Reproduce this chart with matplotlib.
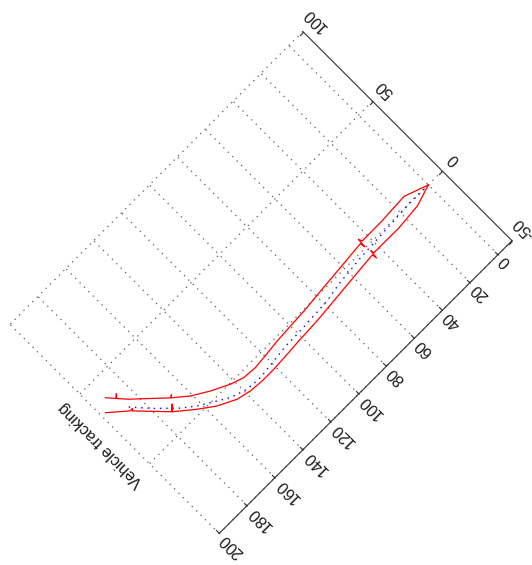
import matplotlib
matplotlib.use("Agg")
import matplotlib.pyplot as plt
from matplotlib.transforms import Affine2D
import mpl_toolkits.axisartist.floating_axes as floating_axes
from mpl_toolkits.axisartist.grid_finder import FixedLocator, DictFormatter

plt.rcParams['font.family'] = ['Liberation Sans', 'DejaVu Sans']

# Axis ranges and ticks
x_limits = (-50, 100)
y_limits = (-10, 200)
x_ticks = [-50, 0, 50, 100]
y_ticks = [0, 20, 40, 60, 80, 100, 120, 140, 160, 180, 200]

title_text = "Vehicle tracking"

# Estimated centre line of the vehicle path
center_x = [0.0, 0.3, -1.2, -1.8, -3.5, -5.3, -5.9, -6.5, -6.6, -7.7, -8.9,
            -8.3, -5.3, 0.0, 3.6, 8.8, 18.5, 29.0]
center_y = [0.0, 12.0, 37.7, 50.3, 67.6, 77.8, 89.2, 100.5, 108.9, 118.5, 129.3,
            138.2, 147.2, 156.2, 162.1, 168.9, 178.8, 188.2]

# Tracked boundary on the +x side of the path
edge_a_x = [0.0, 4.6, 3.7, 3.6, 5.6, 0.6, 3.3, 1.9, 0.6, -0.6, -1.15, -1.8,
            -2.9, -3.5, -2.9, -0.5, 4.2, 9.6, 15.8, 16.9, 15.9, 24.8, 30.6,
            35.2, 37.0, 35.4, 39.5]
edge_a_y = [0.0, 12.9, 29.5, 43.8, 44.6, 45.0, 45.4, 61.1, 76.6, 89.0, 99.9,
            110.1, 120.9, 127.5, 135.3, 142.4, 152.0, 161.0, 168.5, 167.4,
            168.6, 178.1, 184.3, 188.4, 186.7, 188.6, 192.1]

# Tracked boundary on the -x side of the path
edge_b_x = [0.0, -3.6, -4.9, -4.8, -3.0, -7.6, -5.0, -6.5, -7.7, -8.8, -9.5,
            -10.1, -10.7, -10.7, -10.1, -8.3, -3.55, 2.4, 10.5, 13.3, 10.7,
            25.2, 25.9, 26.0, 34.1]
edge_b_y = [0.0, 11.4, 26.3, 44.0, 44.2, 44.8, 45.2, 62.2, 75.4, 88.0, 102.3,
            111.3, 121.5, 129.8, 137.6, 145.4, 155.0, 163.3, 173.2, 170.4,
            173.4, 187.3, 186.2, 188.1, 197.5]

W, H, DPI = 532, 565, 100
fig = plt.figure(figsize=(W / DPI, H / DPI), dpi=DPI)

rotation = Affine2D().rotate_deg(135)
grid_helper = floating_axes.GridHelperCurveLinear(
    rotation,
    extremes=(x_limits[0], x_limits[1], y_limits[0], y_limits[1]),
    grid_locator1=FixedLocator(x_ticks),
    grid_locator2=FixedLocator(y_ticks),
    tick_formatter1=DictFormatter({v: str(v) for v in x_ticks}),
    tick_formatter2=DictFormatter({v: str(v) for v in y_ticks}),
)

# Square axes box (pixels) holding the rotated frame
box = 512
cx, cy = 261, 565 - 282.5
ax = fig.add_axes([(cx - box / 2) / W, (cy - box / 2) / H, box / W, box / H],
                  axes_class=floating_axes.FloatingAxes,
                  grid_helper=grid_helper)

for side in ("top", "right"):
    ax.axis[side].set_visible(False)

for side in ("bottom", "left"):
    art = ax.axis[side]
    art.line.set_color("0.2")
    art.line.set_linewidth(0.8)
    art.major_ticks.set_color("0.2")
    art.major_ticks.set_ticksize(3.5)
    art.major_ticklabels.set_fontsize(11.5)
    art.major_ticklabels.set_color("0.1")
ax.axis["bottom"].major_ticklabels.set_pad(7)

aux = ax.get_aux_axes(rotation)

# Dotted grid across the whole frame, edges included
grid_style = dict(color="0.35", linewidth=0.9, linestyle=(0, (1, 4)),
                  clip_on=False, zorder=1)
for xv in x_ticks:
    aux.plot([xv, xv], list(y_limits), **grid_style)
for yv in y_ticks:
    aux.plot(list(x_limits), [yv, yv], **grid_style)

aux.plot(edge_a_x, edge_a_y, color="red", linewidth=0.9, zorder=3)
aux.plot(edge_b_x, edge_b_y, color="red", linewidth=0.9, zorder=3)
aux.plot(center_x, center_y, color="blue", linewidth=1.0,
         linestyle=(0, (1, 3.5)), zorder=2)

aux.text(24, 210.5, title_text, rotation=135, rotation_mode="anchor",
         ha="center", va="center", fontsize=11.5, color="0.1")

fig.savefig("out.png", dpi=DPI)
